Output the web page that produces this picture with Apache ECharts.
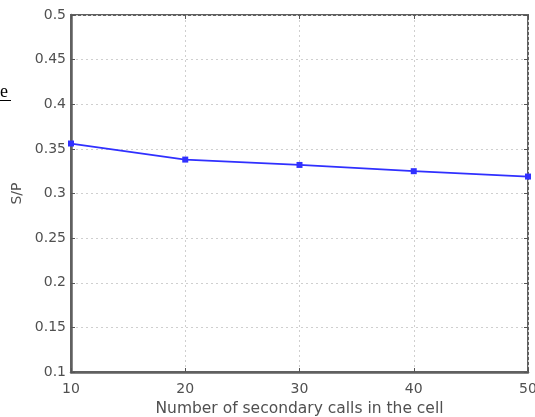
<!DOCTYPE html>
<html><head><meta charset="utf-8">
<script src="https://cdn.jsdelivr.net/npm/echarts@6/dist/echarts.min.js"></script>
<style>html,body{margin:0;padding:0;background:#fff}#c{width:535px;height:417px}</style>
</head><body><div id="c"></div>
<script>
const xValues = [10, 20, 30, 40, 50];
const spValues = [0.356, 0.338, 0.332, 0.325, 0.319];
const xLabel = 'Number of secondary calls in the cell';
const yLabel = 'S/P';

const chart = echarts.init(document.getElementById('c'));
const fmt = v => String(parseFloat(v.toFixed(2)));
const gridLine = {show: true, lineStyle: {color: '#cfcfcf', type: [2, 3], width: 1}};
const tickIn = {show: true, inside: true, length: 4, lineStyle: {color: '#555', width: 1}};
const font = '"DejaVu Sans", "Liberation Sans", Arial';
const lbl = {color: '#505050', fontFamily: font, fontSize: 14};
chart.setOption({
  animation: false,
  grid: {left: 71, right: 7, top: 15, bottom: 45, containLabel: false, outerBoundsMode: 'none',
         show: true, borderColor: '#606060', borderWidth: 2, backgroundColor: '#fff'},
  xAxis: [{
    type: 'value', min: 10, max: 50, interval: 10,
    axisLine: {show: true, lineStyle: {color: '#606060', width: 2.5}},
    axisTick: tickIn, splitLine: gridLine,
    axisLabel: Object.assign({margin: 10}, lbl),
    name: xLabel, nameLocation: 'middle', nameGap: 26,
    nameTextStyle: {color: '#505050', fontFamily: font, fontSize: 15.5}
  }, {
    type: 'value', position: 'top', min: 10, max: 50, interval: 10,
    axisLine: {show: false}, axisTick: tickIn, splitLine: {show: false}, axisLabel: {show: false}
  }],
  yAxis: [{
    type: 'value', min: 0.1, max: 0.5, interval: 0.05,
    axisLine: {show: true, lineStyle: {color: '#606060', width: 2.5}},
    axisTick: tickIn, splitLine: gridLine,
    axisLabel: Object.assign({margin: 5, formatter: fmt}, lbl),
    name: yLabel, nameLocation: 'middle', nameGap: 45, nameRotate: 90,
    nameTextStyle: {color: '#505050', fontFamily: font, fontSize: 14}
  }, {
    type: 'value', position: 'right', min: 0.1, max: 0.5, interval: 0.05,
    axisLine: {show: false}, axisTick: tickIn, splitLine: {show: false}, axisLabel: {show: false}
  }],
  series: [{
    type: 'line',
    data: xValues.map((x, i) => [x, spValues[i]]),
    symbol: 'rect', symbolSize: 6, showAllSymbol: true,
    lineStyle: {color: '#3030ff', width: 1.8},
    itemStyle: {color: '#3030ff'}
  }],
  graphic: [
    {type: 'text', x: 0, y: 83, style: {text: 'e', font: '18px "Liberation Serif", serif', fill: '#000'}},
    {type: 'rect', x: 0, y: 100, shape: {x: 0, y: 0, width: 11, height: 1}, style: {fill: '#000'}}
  ]
});
</script></body></html>
